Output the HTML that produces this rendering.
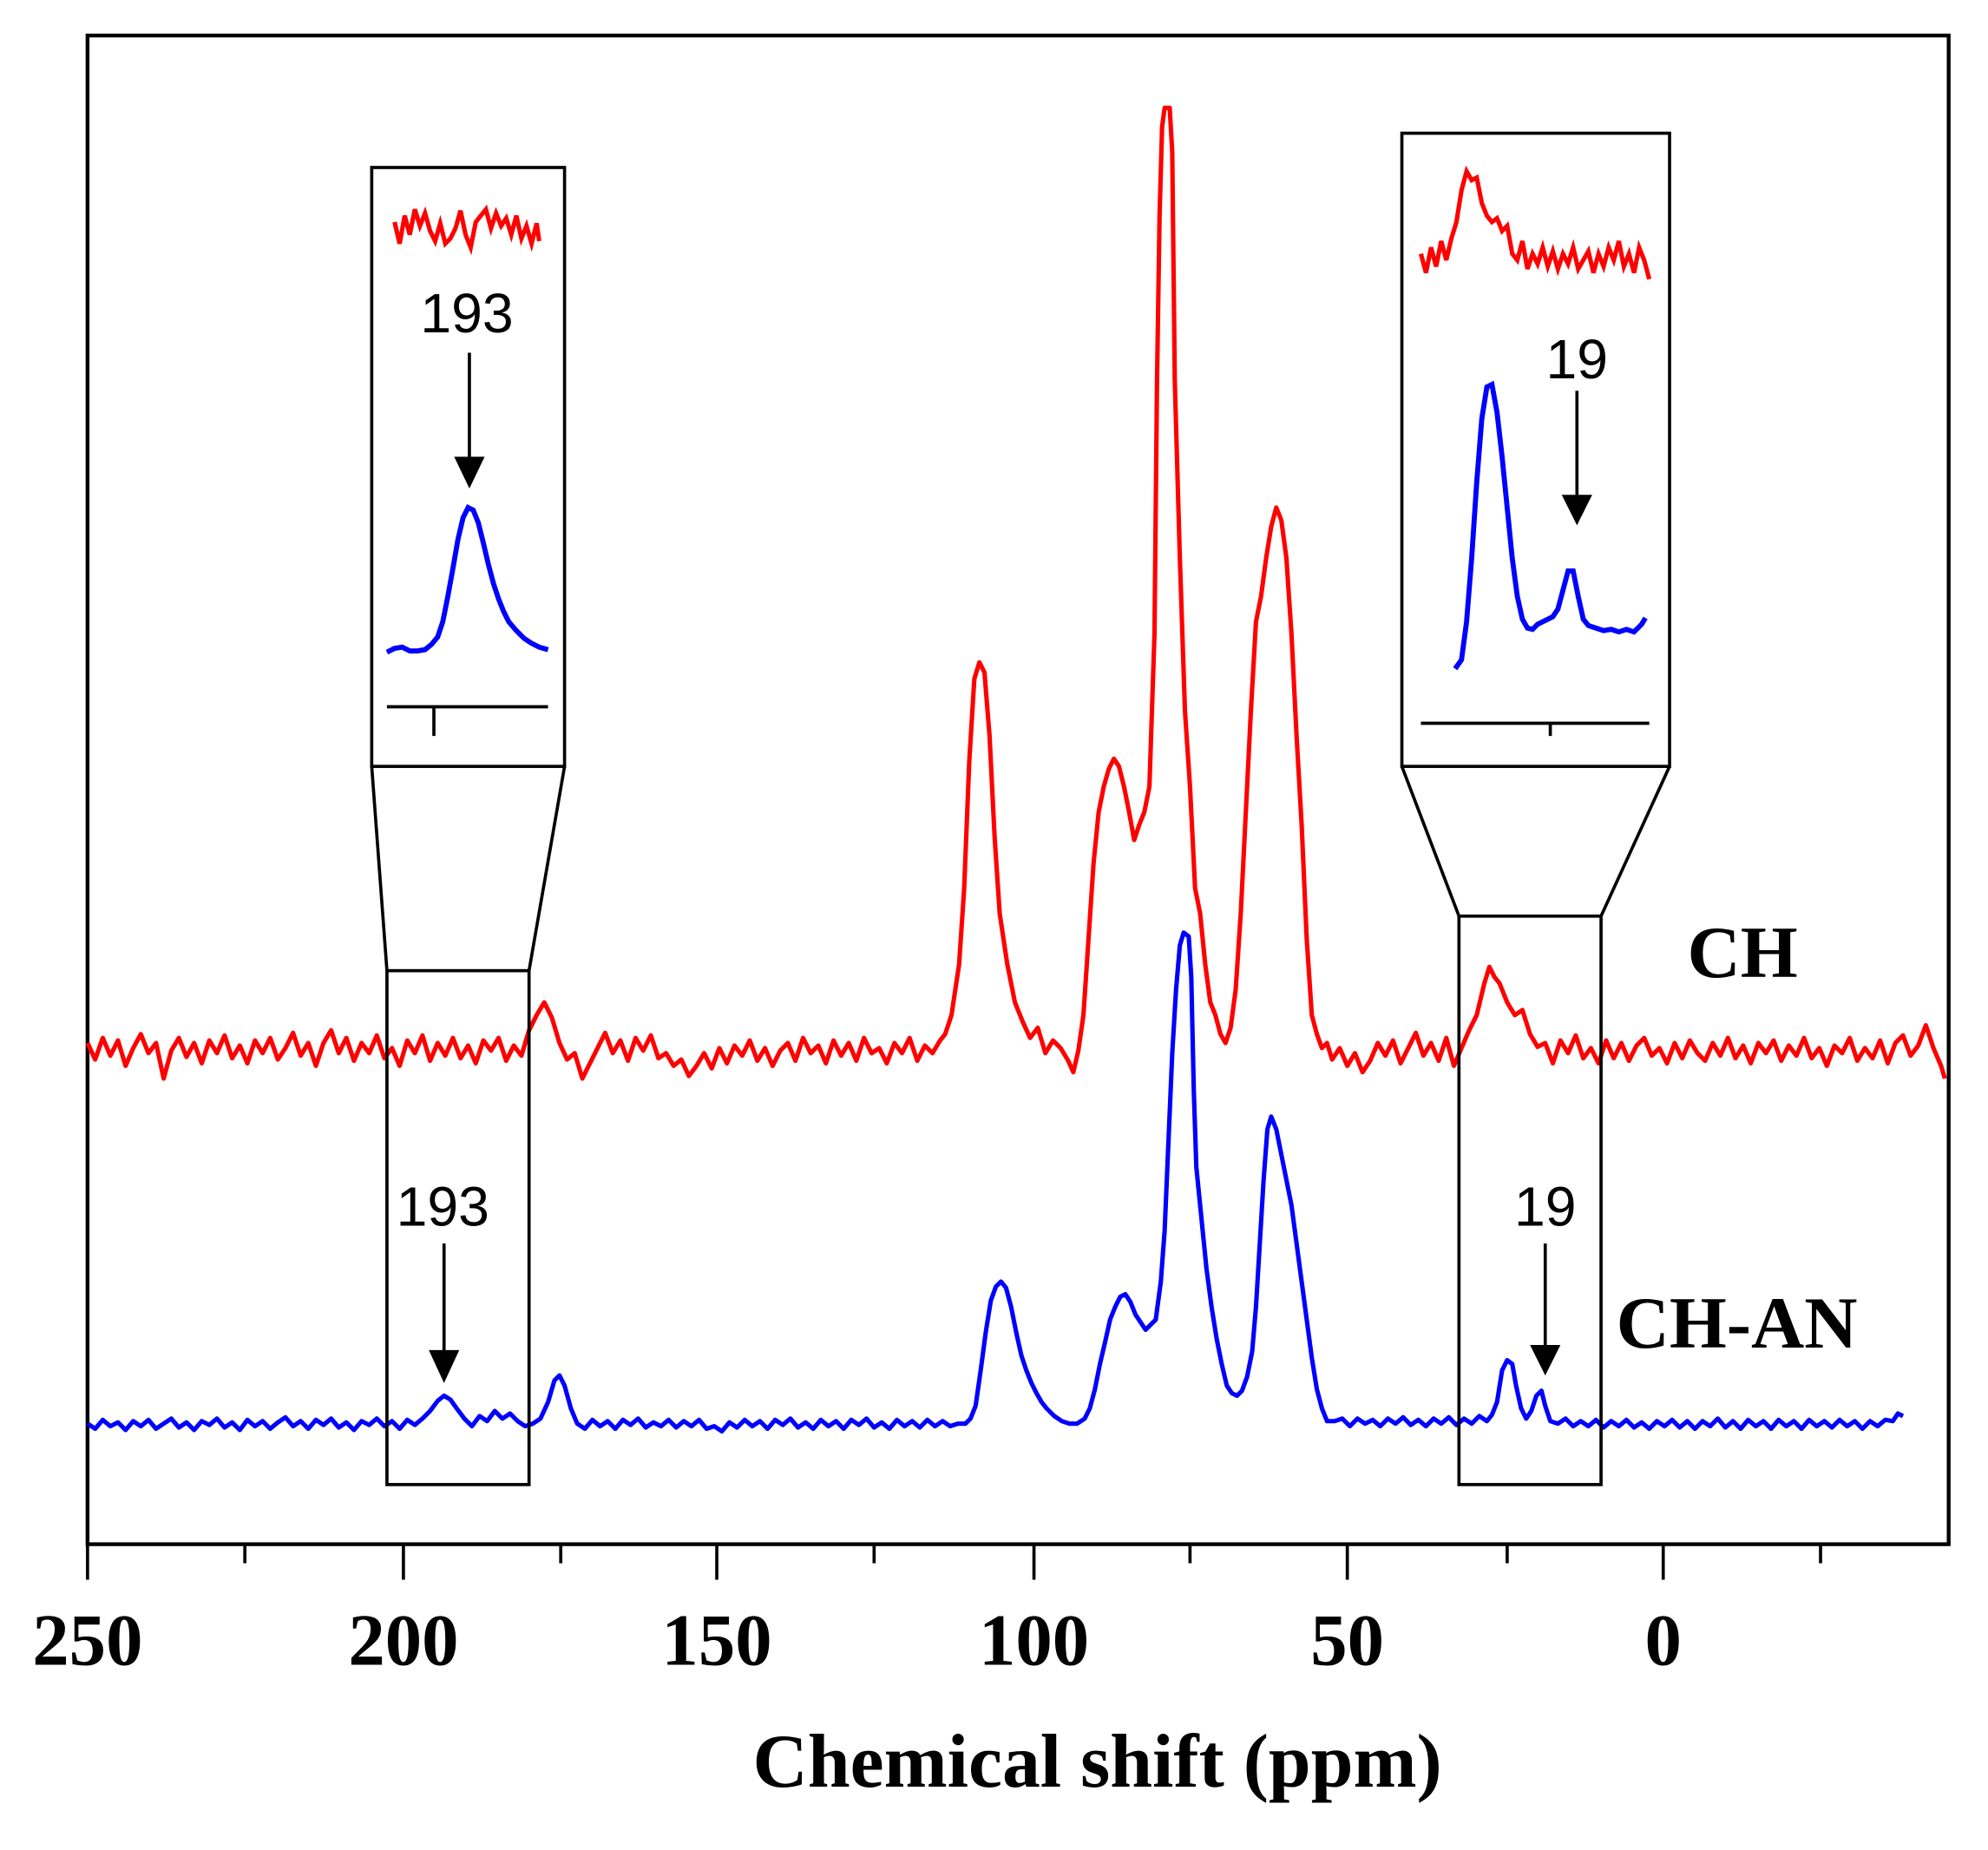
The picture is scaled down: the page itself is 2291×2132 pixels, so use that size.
<!DOCTYPE html>
<html><head><meta charset="utf-8">
<style>
html,body{margin:0;padding:0;background:#fff;}
svg{display:block;}
.tk{font-family:"Liberation Serif",serif;font-weight:bold;font-size:58px;}
.lab{font-family:"Liberation Sans",sans-serif;font-size:44px;}
</style></head>
<body>
<svg width="2291" height="2132" viewBox="0 0 1567 1458" preserveAspectRatio="none" xmlns="http://www.w3.org/2000/svg">
<rect x="0" y="0" width="1567" height="1458" fill="#fff"/>
<g fill="none" stroke="#000" stroke-width="3">
<rect x="69" y="28" width="1467" height="1189"/>
</g>
<g stroke="#000" stroke-width="2.5">
<line x1="69" y1="1217" x2="69" y2="1245"/><line x1="318" y1="1217" x2="318" y2="1245"/>
<line x1="565" y1="1217" x2="565" y2="1245"/><line x1="815" y1="1217" x2="815" y2="1245"/>
<line x1="1062" y1="1217" x2="1062" y2="1245"/><line x1="1311" y1="1217" x2="1311" y2="1245"/>
<line x1="193" y1="1217" x2="193" y2="1232"/><line x1="442" y1="1217" x2="442" y2="1232"/>
<line x1="689" y1="1217" x2="689" y2="1232"/><line x1="938" y1="1217" x2="938" y2="1232"/>
<line x1="1188" y1="1217" x2="1188" y2="1232"/><line x1="1435" y1="1217" x2="1435" y2="1232"/>
</g>
<g class="tk" text-anchor="middle">
<text x="69" y="1312">250</text><text x="318" y="1312">200</text><text x="565" y="1312">150</text>
<text x="815" y="1312">100</text><text x="1062" y="1312">50</text><text x="1311" y="1312">0</text>
<text x="865" y="1408" font-size="60">Chemical shift (ppm)</text>
</g>
<text class="tk" x="1330" y="770" font-size="56">CH</text>
<text class="tk" x="1274" y="1062" font-size="56">CH-AN</text>

<polyline fill="none" stroke="#f00" stroke-width="3.5" stroke-linejoin="round" points="69,822 75,835 81,818 87,832 93,820 99,840 105,826 111,815 117,830 123,822 129,850 135,828 141,818 147,833 153,822 159,838 165,820 171,830 177,816 183,834 189,824 195,838 201,820 207,830 213,818 219,835 225,826 231,814 237,832 243,822 249,840 255,822 261,812 267,830 273,818 279,836 285,822 291,830 297,816 303,834 309,826 315,840 321,820 327,830 333,816 339,836 345,822 351,832 357,818 363,834 369,824 375,838 381,820 387,828 393,818 399,836 405,824 411,832 417,812 423,800 429,790 435,802 441,822 447,835 453,830 459,850 465,838 471,826 477,814 483,830 489,820 495,836 501,818 507,828 513,816 519,834 525,830 531,840 537,835 543,848 549,840 555,830 561,842 567,826 573,838 579,824 585,832 591,820 597,836 603,826 609,840 615,828 621,822 627,836 633,818 639,830 645,824 651,838 657,820 663,832 669,822 675,836 681,818 687,830 693,826 699,838 705,822 711,830 717,818 723,836 729,824 735,830 741,820 745,815 750,800 756,760 760,700 764,600 768,535 772,522 776,530 780,580 784,660 788,720 794,760 800,790 806,805 812,818 818,810 824,830 830,820 836,826 842,836 846,845 850,828 854,800 858,740 862,680 866,640 870,620 874,606 878,598 882,604 886,620 890,640 894,662 898,650 902,640 906,620 910,500 912,300 914,170 916,100 918,85 922,85 924,120 926,300 930,440 934,560 938,620 942,700 946,720 950,760 954,790 958,800 962,815 966,822 970,810 974,780 978,720 982,640 986,560 990,490 994,470 998,440 1002,415 1006,400 1010,410 1014,440 1018,500 1022,580 1026,650 1030,740 1034,800 1038,815 1042,826 1046,822 1050,835 1056,826 1062,840 1068,830 1074,845 1080,836 1086,822 1092,832 1098,820 1104,838 1110,826 1116,814 1122,832 1128,822 1134,836 1140,818 1146,840 1152,826 1158,812 1164,800 1170,775 1174,762 1178,770 1182,775 1188,790 1194,800 1200,796 1206,815 1212,825 1218,822 1224,838 1230,820 1236,830 1242,816 1248,834 1254,826 1260,838 1266,820 1272,834 1278,822 1284,836 1290,824 1296,818 1302,832 1308,826 1314,838 1320,822 1326,834 1332,820 1338,830 1344,836 1350,822 1356,832 1362,818 1368,834 1374,824 1380,838 1386,822 1392,830 1398,820 1404,836 1410,824 1416,832 1422,818 1428,834 1434,826 1440,840 1446,824 1452,830 1458,818 1464,836 1470,826 1476,834 1482,820 1488,838 1494,822 1500,816 1506,832 1512,824 1518,808 1524,826 1530,840 1533,850"/>

<polyline fill="none" stroke="#00f" stroke-width="3.5" stroke-linejoin="round" points="69,1122 75,1126 81,1119 87,1124 93,1121 99,1127 105,1120 111,1124 117,1119 123,1126 129,1122 135,1118 141,1125 147,1121 153,1127 159,1120 165,1123 171,1118 177,1125 183,1121 189,1127 195,1119 201,1124 207,1120 213,1126 219,1121 225,1117 231,1124 237,1120 243,1126 249,1119 255,1123 261,1118 267,1125 273,1121 279,1127 285,1120 291,1123 297,1118 303,1124 309,1120 315,1126 321,1119 327,1123 333,1118 339,1112 345,1104 350,1100 355,1103 360,1110 366,1118 372,1124 378,1116 384,1120 390,1112 396,1118 402,1114 408,1120 414,1124 420,1122 426,1118 432,1105 437,1088 441,1084 445,1092 450,1110 455,1122 461,1126 467,1119 473,1124 479,1120 485,1126 491,1119 497,1123 503,1118 509,1125 515,1121 521,1124 527,1119 533,1125 539,1120 545,1124 551,1119 557,1126 563,1124 569,1128 575,1121 581,1125 587,1119 593,1124 599,1120 605,1126 611,1119 617,1123 623,1118 629,1125 635,1121 641,1126 647,1119 653,1124 659,1120 665,1126 671,1119 677,1123 683,1118 689,1125 695,1121 701,1126 707,1119 713,1124 719,1120 725,1125 731,1119 737,1124 743,1120 749,1124 755,1122 761,1122 765,1118 769,1108 773,1080 777,1050 781,1025 785,1014 789,1010 793,1015 797,1030 801,1050 805,1068 809,1080 813,1090 817,1098 821,1105 825,1110 831,1116 837,1120 843,1122 849,1122 855,1118 859,1110 863,1095 867,1075 871,1058 875,1040 879,1030 883,1022 887,1020 891,1026 895,1036 899,1042 903,1048 907,1044 911,1040 915,1010 918,970 921,900 924,830 927,780 930,745 933,735 937,738 939,770 941,860 943,920 947,960 951,1000 955,1030 959,1055 963,1075 967,1092 971,1098 975,1100 979,1096 983,1085 987,1065 990,1030 993,980 996,930 999,890 1002,880 1006,890 1010,910 1014,930 1018,950 1022,980 1026,1010 1030,1040 1034,1070 1038,1095 1042,1110 1046,1120 1052,1120 1058,1118 1064,1124 1070,1118 1076,1122 1082,1119 1088,1124 1094,1118 1100,1122 1106,1117 1112,1123 1118,1119 1124,1124 1130,1118 1136,1122 1142,1117 1148,1123 1154,1118 1160,1122 1166,1116 1172,1120 1176,1115 1180,1105 1184,1080 1188,1072 1192,1075 1195,1092 1199,1110 1203,1118 1207,1112 1211,1100 1215,1096 1218,1108 1222,1120 1228,1122 1234,1118 1240,1124 1246,1120 1252,1124 1258,1119 1264,1125 1270,1120 1276,1124 1282,1119 1288,1125 1294,1121 1300,1126 1306,1120 1312,1124 1318,1119 1324,1125 1330,1120 1336,1126 1342,1120 1348,1124 1354,1118 1360,1125 1366,1120 1372,1126 1378,1119 1384,1124 1390,1120 1396,1126 1402,1119 1408,1124 1414,1120 1420,1126 1426,1119 1432,1124 1438,1120 1444,1125 1450,1119 1456,1124 1462,1120 1468,1126 1474,1120 1480,1124 1486,1119 1492,1120 1496,1114 1500,1116"/>

<polyline fill="none" stroke="#f00" stroke-width="3.5" points="311,175 315,192 319,170 323,185 327,165 331,178 335,168 339,182 343,190 347,176 351,192 355,188 359,180 363,166 367,185 371,195 375,175 379,170 383,165 387,180 391,168 395,178 399,172 403,185 407,170 411,188 415,178 419,192 423,176 425,190"/>
<polyline fill="none" stroke="#00f" stroke-width="4" points="305,514 311,511 317,510 323,513 329,513 335,512 340,508 345,502 349,490 353,470 357,448 361,425 365,408 369,400 373,402 377,412 381,428 385,445 389,460 393,472 397,482 401,490 407,497 413,503 419,507 425,510 432,512"/>
<polyline fill="none" stroke="#f00" stroke-width="3.5" points="1120,200 1124,215 1128,195 1132,210 1136,190 1140,205 1144,188 1148,175 1152,150 1156,135 1160,142 1164,140 1168,160 1172,170 1176,175 1180,172 1184,182 1188,178 1192,200 1196,205 1200,190 1204,212 1208,200 1212,208 1216,195 1220,210 1224,198 1228,212 1232,200 1236,208 1240,195 1244,212 1248,205 1252,198 1256,215 1260,200 1264,210 1268,195 1272,205 1276,190 1280,210 1284,200 1288,215 1292,195 1296,205 1300,220"/>
<polyline fill="none" stroke="#00f" stroke-width="4" points="1147,527 1152,520 1156,490 1160,440 1164,380 1168,330 1172,305 1176,303 1180,325 1184,360 1188,400 1192,440 1196,470 1200,488 1204,495 1208,496 1212,492 1216,490 1220,488 1224,486 1228,480 1232,465 1236,450 1240,450 1244,470 1248,488 1252,493 1258,495 1264,497 1270,496 1276,498 1282,496 1288,498 1294,492 1297,487"/>

<g fill="none" stroke="#000" stroke-width="2.5">
<rect x="293" y="132" width="152" height="472"/>
<path d="M293 604 L305 765 M445 604 L417 765"/>
<rect x="305" y="765" width="112" height="405"/>
<rect x="1105" y="105" width="211" height="499"/>
<path d="M1105 604 L1150 722 M1316 604 L1262 722"/>
<rect x="1150" y="722" width="112" height="448"/>
<path d="M305 557 H432 M342 557 V580 M1120 570 H1300 M1222 570 V580"/>
<path d="M370 278 V362 M1243 308 V392 M350 980 V1066 M1218 980 V1062"/>
</g>
<g fill="#000">
<path d="M358 360 L382 360 L370 385 Z"/>
<path d="M1231 390 L1255 390 L1243 414 Z"/>
<path d="M338 1064 L362 1064 L350 1090 Z"/>
<path d="M1206 1060 L1230 1060 L1218 1084 Z"/>
</g>
<g class="lab" text-anchor="middle">
<text x="368" y="262">193</text>
<text x="1243" y="298">19</text>
<text x="349" y="966">193</text>
<text x="1218" y="966">19</text>
</g>
</svg>
</body></html>
